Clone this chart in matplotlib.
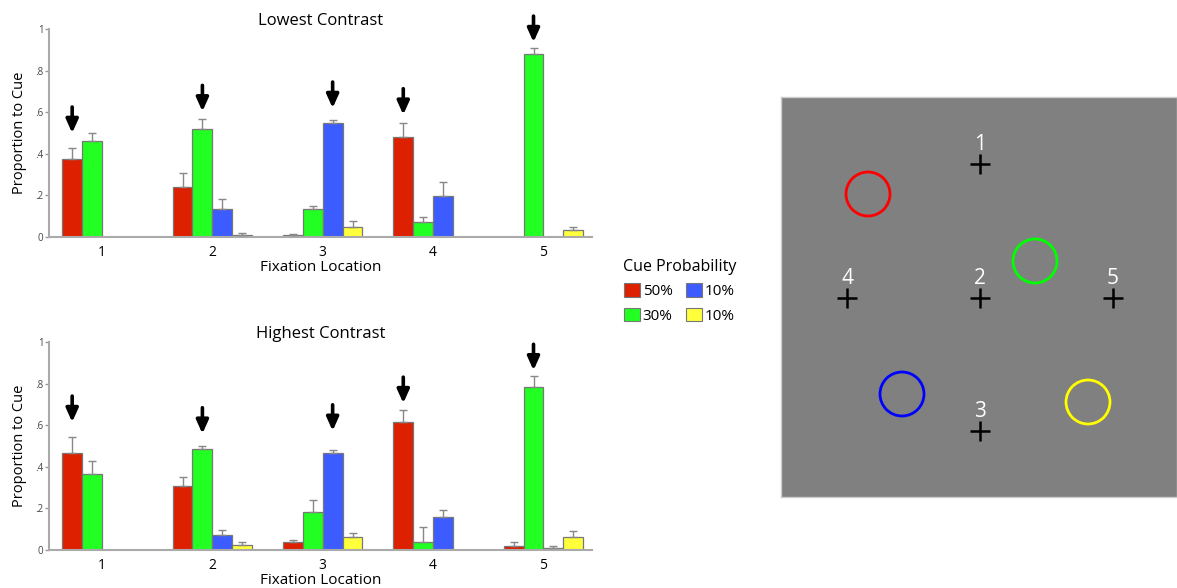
import numpy as np
import matplotlib
matplotlib.use("Agg")
import matplotlib.pyplot as plt
from matplotlib.patches import Circle, Patch

plt.rcParams['font.family'] = ['Open Sans', 'DejaVu Sans']

# fixation locations and cue conditions
locations = [1, 2, 3, 4, 5]
cue_labels = ['50%', '30%', '10%', '10%']
cue_colors = ['#dd2000', '#22ff22', '#3d5cff', '#ffff3c']

# proportion to cue, rows = cue (red, green, blue, yellow), cols = location
low_mean = np.array([
    [0.375, 0.240, 0.010, 0.480, 0.000],
    [0.460, 0.518, 0.136, 0.074, 0.878],
    [0.000, 0.133, 0.550, 0.197, 0.000],
    [0.000, 0.008, 0.050, 0.000, 0.035],
])
low_err = np.array([
    [0.055, 0.070, 0.006, 0.068, 0.000],
    [0.040, 0.049, 0.015, 0.024, 0.029],
    [0.000, 0.050, 0.011, 0.066, 0.000],
    [0.000, 0.010, 0.025, 0.000, 0.011],
])
high_mean = np.array([
    [0.465, 0.308, 0.039, 0.616, 0.019],
    [0.364, 0.485, 0.183, 0.039, 0.783],
    [0.000, 0.072, 0.464, 0.157, 0.008],
    [0.000, 0.022, 0.061, 0.000, 0.061],
])
high_err = np.array([
    [0.076, 0.042, 0.008, 0.057, 0.020],
    [0.066, 0.013, 0.059, 0.073, 0.052],
    [0.000, 0.024, 0.016, 0.033, 0.011],
    [0.000, 0.015, 0.019, 0.000, 0.029],
])

# which cue the arrow points at per location, and where its tip sits
low_arrow_cue = [0, 1, 2, 0, 1]
low_arrow_tip = [0.50, 0.604, 0.62, 0.588, 0.937]
high_arrow_cue = [0, 1, 2, 0, 1]
high_arrow_tip = [0.615, 0.559, 0.573, 0.706, 0.864]
arrow_len = 0.125

# display diagram (pixel units inside the panel, y downward)
panel_w, panel_h = 396, 400
cross_names = ['1', '2', '3', '4', '5']
cross_x = [199, 199, 199, 66, 332]
cross_y = [67, 201, 334, 201, 201]
circle_x = [87, 254, 121, 307]
circle_y = [97, 164, 297, 305]
circle_r = 22
circle_colors = ['#ff0000', '#00ff00', '#0000ff', '#ffff00']

bar_w = 0.18
offsets = (np.arange(4) - 1.5) * bar_w


def draw_panel(ax, means, errs, arrow_cue, arrow_tip, title):
    x = np.array(locations, dtype=float)
    for i in range(4):
        xs = x + offsets[i]
        ax.bar(xs, means[i], width=bar_w, color=cue_colors[i],
               edgecolor='#777777', linewidth=0.9, zorder=2)
        keep = errs[i] > 0
        ax.errorbar(xs[keep], means[i][keep],
                    yerr=[np.zeros(keep.sum()), errs[i][keep]],
                    fmt='none', ecolor='#888888', elinewidth=1.0,
                    capsize=3, capthick=1.0, zorder=3)
    for j, loc in enumerate(locations):
        ax_x = loc + offsets[arrow_cue[j]]
        tip = arrow_tip[j]
        ax.annotate('', xy=(ax_x, tip), xytext=(ax_x, tip + arrow_len),
                    arrowprops=dict(arrowstyle='-|>,head_width=0.36,head_length=0.8',
                                    lw=2.6, color='black', shrinkA=0, shrinkB=0),
                    annotation_clip=False)

    ax.set_xlim(0.52, 5.44)
    ax.set_ylim(0, 1)
    ax.set_yticks([0, 0.2, 0.4, 0.6, 0.8, 1])
    ax.set_yticklabels(['0', '.2', '.4', '.6', '.8', '1'])
    ax.set_xticks(locations)
    ax.tick_params(axis='y', labelsize=7, colors='#999999', labelcolor='#444444',
                   length=3, width=1, pad=1)
    ax.tick_params(axis='x', labelsize=10, length=0, pad=6)
    for s in ['top', 'right']:
        ax.spines[s].set_visible(False)
    for s in ['left', 'bottom']:
        ax.spines[s].set_color('#aaaaaa')
        ax.spines[s].set_linewidth(1.5)
    ax.set_title(title, fontsize=12, pad=3)
    ax.set_xlabel('Fixation Location', fontsize=11, labelpad=0)
    ax.set_ylabel('Proportion to Cue', fontsize=10.5, labelpad=6)


fig = plt.figure(figsize=(11.77, 5.88), dpi=100)
W, H = 1177, 588

ax_top = fig.add_axes([49 / W, (H - 237) / H, 543 / W, 208 / H])
draw_panel(ax_top, low_mean, low_err, low_arrow_cue, low_arrow_tip, 'Lowest Contrast')

ax_bot = fig.add_axes([49 / W, (H - 550) / H, 543 / W, 208 / H])
draw_panel(ax_bot, high_mean, high_err, high_arrow_cue, high_arrow_tip, 'Highest Contrast')

# legend for cue probability
handles = [Patch(facecolor=c, edgecolor='#777777', linewidth=0.8) for c in cue_colors]
fig.legend(handles, cue_labels, title='Cue Probability', ncol=2,
           loc='upper left', bbox_to_anchor=(609 / W, (H - 245) / H),
           frameon=False, fontsize=11, title_fontsize=11.5,
           handlelength=1.0, handleheight=1.0, handletextpad=0.2,
           columnspacing=0.9, labelspacing=0.55)

# stimulus display panel
ax_d = fig.add_axes([781 / W, (H - 497) / H, panel_w / W, panel_h / H])
ax_d.set_xlim(0, panel_w)
ax_d.set_ylim(panel_h, 0)
ax_d.set_facecolor('#808080')
ax_d.set_xticks([])
ax_d.set_yticks([])
for s in ax_d.spines.values():
    s.set_color('#cccccc')
    s.set_linewidth(1)
for cx, cy, col in zip(circle_x, circle_y, circle_colors):
    ax_d.add_patch(Circle((cx, cy), circle_r, fill=False, edgecolor=col, linewidth=2))
ax_d.plot(cross_x, cross_y, linestyle='none', marker='+', markersize=14,
          markeredgewidth=1.8, color='black')
for name, cx, cy in zip(cross_names, cross_x, cross_y):
    ax_d.text(cx, cy - 9, name, color='white', fontsize=15,
              ha='center', va='bottom')

fig.savefig('out.png', dpi=100)
